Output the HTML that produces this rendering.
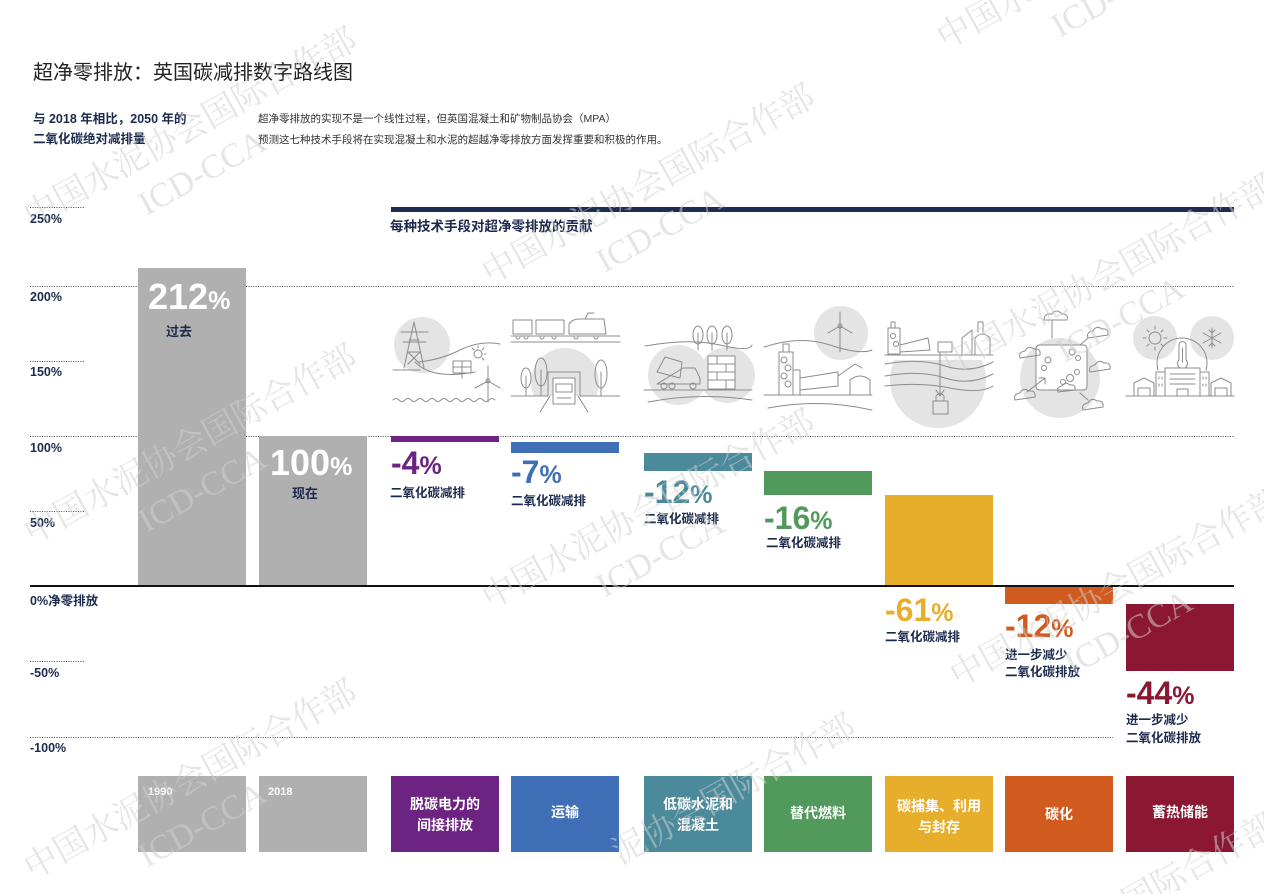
<!DOCTYPE html>
<html><head><meta charset="utf-8"><style>
html,body{margin:0;padding:0;background:#fff;width:1264px;height:894px;overflow:hidden;}
svg{display:block;overflow:hidden;}
</style></head><body>
<svg width="1264" height="894" viewBox="0 0 1264 894" xmlns="http://www.w3.org/2000/svg" font-family="'Liberation Sans','Noto Sans CJK SC',sans-serif">
<defs>
<clipPath id="c2"><rect x="505" y="300" width="120" height="96"/></clipPath>
<clipPath id="c5"><rect x="880" y="360" width="120" height="100"/></clipPath>
<clipPath id="page"><rect x="0" y="0" width="1264" height="894"/></clipPath>
</defs>
<rect width="1264" height="894" fill="#fff"/>

<!-- Title -->
<text x="33" y="79" font-size="20" fill="#222">超净零排放：英国碳减排数字路线图</text>
<text x="33" y="123" font-size="12.5" font-weight="bold" fill="#1c2a4e">与 2018 年相比，2050 年的</text>
<text x="33" y="143" font-size="12.5" font-weight="bold" fill="#1c2a4e">二氧化碳绝对减排量</text>
<text x="258" y="122" font-size="10.5" fill="#333">超净零排放的实现不是一个线性过程，但英国混凝土和矿物制品协会（MPA）</text>
<text x="258" y="143" font-size="10.5" fill="#333">预测这七种技术手段将在实现混凝土和水泥的超越净零排放方面发挥重要和积极的作用。</text>

<!-- header bar -->
<rect x="391" y="207" width="843" height="5" fill="#1d2c50"/>
<text x="390" y="231" font-size="13.5" font-weight="bold" fill="#1c2a4e">每种技术手段对超净零排放的贡献</text>

<!-- gridlines -->
<g stroke="#444" stroke-width="1" stroke-dasharray="1 1.4" fill="none">
<line x1="30" y1="207.5" x2="84" y2="207.5"/>
<line x1="30" y1="286.5" x2="1234" y2="286.5"/>
<line x1="30" y1="361.5" x2="84" y2="361.5"/>
<line x1="30" y1="436.5" x2="1234" y2="436.5"/>
<line x1="30" y1="511.5" x2="84" y2="511.5"/>
<line x1="30" y1="661.5" x2="84" y2="661.5"/>
<line x1="30" y1="737.5" x2="1113" y2="737.5"/>
</g>

<!-- axis labels -->
<g font-size="12.5" font-weight="bold" fill="#1c2a4e">
<text x="30" y="223">250%</text>
<text x="30" y="301">200%</text>
<text x="30" y="376">150%</text>
<text x="30" y="452">100%</text>
<text x="30" y="527">50%</text>
<text x="30" y="605">0%净零排放</text>
<text x="30" y="677">-50%</text>
<text x="30" y="752">-100%</text>
</g>

<!-- bars -->
<rect x="138" y="268" width="108" height="318" fill="#b0b0b0"/>
<rect x="259" y="436" width="108" height="150" fill="#b0b0b0"/>
<rect x="391" y="436" width="108" height="6" fill="#6c2381"/>
<rect x="511" y="442" width="108" height="11" fill="#3f6fb6"/>
<rect x="644" y="453" width="108" height="18" fill="#4b8a9b"/>
<rect x="764" y="471" width="108" height="24" fill="#519a5b"/>
<rect x="885" y="495" width="108" height="91" fill="#e6ae2b"/>
<rect x="1005" y="586" width="108" height="18" fill="#d15a1f"/>
<rect x="1126" y="604" width="108" height="67" fill="#8b1732"/>

<!-- zero line -->
<rect x="30" y="585" width="1204" height="2" fill="#111"/>

<!-- bar labels -->
<text x="148" y="309" font-size="36" font-weight="bold" fill="#fff">212<tspan font-size="25">%</tspan></text>
<text x="166" y="336" font-size="13" font-weight="bold" fill="#1c2a4e">过去</text>
<text x="270" y="475" font-size="36" font-weight="bold" fill="#fff">100<tspan font-size="25">%</tspan></text>
<text x="292" y="498" font-size="13" font-weight="bold" fill="#1c2a4e">现在</text>

<g font-weight="bold">
<text x="391" y="474" font-size="32" fill="#6c2381">-4<tspan font-size="25">%</tspan></text>
<text x="390" y="497" font-size="12.5" fill="#1c2a4e">二氧化碳减排</text>

<text x="511" y="483" font-size="32" fill="#3f6fb6">-7<tspan font-size="25">%</tspan></text>
<text x="511" y="505" font-size="12.5" fill="#1c2a4e">二氧化碳减排</text>

<text x="644" y="503" font-size="32" fill="#4b8a9b">-12<tspan font-size="25">%</tspan></text>
<text x="644" y="523" font-size="12.5" fill="#1c2a4e">二氧化碳减排</text>

<text x="764" y="529" font-size="32" fill="#519a5b">-16<tspan font-size="25">%</tspan></text>
<text x="766" y="547" font-size="12.5" fill="#1c2a4e">二氧化碳减排</text>

<text x="885" y="621" font-size="32" fill="#e6ae2b">-61<tspan font-size="25">%</tspan></text>
<text x="885" y="641" font-size="12.5" fill="#1c2a4e">二氧化碳减排</text>

<text x="1005" y="637" font-size="32" fill="#d15a1f">-12<tspan font-size="25">%</tspan></text>
<text x="1005" y="659" font-size="12.5" fill="#1c2a4e">进一步减少</text>
<text x="1005" y="676" font-size="12.5" fill="#1c2a4e">二氧化碳排放</text>

<text x="1126" y="704" font-size="32" fill="#8b1732">-44<tspan font-size="25">%</tspan></text>
<text x="1126" y="724" font-size="12.5" fill="#1c2a4e">进一步减少</text>
<text x="1126" y="742" font-size="12.5" fill="#1c2a4e">二氧化碳排放</text>
</g>

<!-- bottom boxes -->
<rect x="138" y="776" width="108" height="76" fill="#b0b0b0"/>
<rect x="259" y="776" width="108" height="76" fill="#b0b0b0"/>
<rect x="391" y="776" width="108" height="76" fill="#6c2381"/>
<rect x="511" y="776" width="108" height="76" fill="#3f6fb6"/>
<rect x="644" y="776" width="108" height="76" fill="#4b8a9b"/>
<rect x="764" y="776" width="108" height="76" fill="#519a5b"/>
<rect x="885" y="776" width="108" height="76" fill="#e6ae2b"/>
<rect x="1005" y="776" width="108" height="76" fill="#d15a1f"/>
<rect x="1126" y="776" width="108" height="76" fill="#8b1732"/>
<g font-weight="bold" fill="#fff">
<text x="148" y="795" font-size="11">1990</text>
<text x="268" y="795" font-size="11">2018</text>
<g font-size="14" text-anchor="middle">
<text x="445" y="809">脱碳电力的</text>
<text x="445" y="830">间接排放</text>
<text x="565" y="817">运输</text>
<text x="698" y="809">低碳水泥和</text>
<text x="698" y="830">混凝土</text>
<text x="818" y="818">替代燃料</text>
<text x="939" y="811">碳捕集、利用</text>
<text x="939" y="832">与封存</text>
<text x="1059" y="819">碳化</text>
<text x="1180" y="817">蓄热储能</text>
</g>
</g>

<!-- ICONS -->
<g stroke="#8c8c8c" stroke-width="1" fill="none" stroke-linecap="round" stroke-linejoin="round">
<!-- icon1 power -->
<circle cx="422" cy="345" r="28" fill="#e4e4e4" stroke="none"/>
<path d="M404 368 L414 322 L424 368 M407 352 L421 352 M409 340 L419 340 M401 332 L428 332 M403 342 L426 342 M408 352 L420 364 M420 352 L408 364"/>
<path d="M393 370 L420 370"/>
<path d="M418 362 Q440 360 460 350 T500 344"/>
<path d="M415 362 Q432 380 475 372"/>
<rect x="453" y="361" width="18" height="12"/><path d="M462 361 L462 373 M453 367 L471 367 M462 373 L462 378"/>
<circle cx="478" cy="354" r="4"/><path d="M478 346 L478 348 M486 354 L484 354 M484 348 L482 350 M472 348 L474 350 M484 360 L482 358"/>
<path d="M488 381 L488 402 M488 381 L488 366 M488 381 L475 388 M488 381 L500 388"/><circle cx="488" cy="381" r="2"/>
<path d="M393 400 q3 -3 6 0 q3 3 6 0 q3 -3 6 0 q3 3 6 0 q3 -3 6 0 q3 3 6 0 q3 -3 6 0 q3 3 6 0 q3 -3 6 0 q3 3 6 0 q3 -3 6 0 q3 3 6 0 q3 -3 6 0 q3 3 6 0 q3 -3 6 0 q3 3 6 0 q3 -3 6 0"/>

<!-- icon2 transport -->
<circle cx="565" cy="382" r="34" fill="#e4e4e4" stroke="none" clip-path="url(#c2)"/>
<rect x="513" y="320" width="19" height="14"/><rect x="536" y="320" width="28" height="14"/>
<path d="M569 334 L569 324 Q572 319 580 319 L604 319 L606 334 Z M585 319 L588 313 L594 313"/>
<path d="M516 337 a2 2 0 1 0 4 0 M524 337 a2 2 0 1 0 4 0 M540 337 a2 2 0 1 0 4 0 M552 337 a2 2 0 1 0 4 0 M574 337 a2 2 0 1 0 4 0 M594 337 a2 2 0 1 0 4 0"/>
<path d="M511 336 L620 336 M511 342 L620 342"/>
<ellipse cx="526" cy="378" rx="5" ry="10"/><path d="M526 376 L526 396"/>
<ellipse cx="541" cy="372" rx="6" ry="14"/><path d="M541 370 L541 396"/>
<ellipse cx="601" cy="374" rx="6" ry="14"/><path d="M601 372 L601 396"/>
<path d="M511 396 L548 396 M580 396 L620 396"/>
<path d="M550 396 L540 412 M578 396 L588 412"/>
<rect x="553" y="378" width="22" height="26" fill="#fff"/><path d="M556 384 L572 384 L572 392 L556 392 Z M557 398 L571 398"/>
<path d="M548 372 L580 372 L580 396 M548 372 L548 396"/>

<!-- icon3 cement -->
<circle cx="678" cy="375" r="30" fill="#e4e4e4" stroke="none"/>
<circle cx="727" cy="375" r="28" fill="#e4e4e4" stroke="none"/>
<ellipse cx="698" cy="335" rx="5" ry="9"/><path d="M698 333 L698 350"/>
<ellipse cx="712" cy="335" rx="5" ry="9"/><path d="M712 333 L712 350"/>
<ellipse cx="727" cy="335" rx="5" ry="9"/><path d="M727 333 L727 350"/>
<path d="M645 346 Q690 338 720 345 T752 345"/>
<path d="M657 372 L665 357 L682 362 L680 378 Z M683 368 L695 368 L700 378 L700 384 L657 384 Z"/>
<circle cx="664" cy="386" r="3"/><circle cx="672" cy="386" r="3"/><circle cx="693" cy="386" r="3"/>
<rect x="708" y="356" width="27" height="33" fill="#fff"/>
<path d="M708 364 L735 364 M708 372 L735 372 M708 380 L735 380 M717 356 L717 364 M726 364 L726 372 M717 372 L717 380 M726 380 L726 389"/>
<path d="M644 390 L752 390"/>
<path d="M648 402 Q700 392 752 400"/>

<!-- icon4 fuels -->
<circle cx="841" cy="333" r="27" fill="#e4e4e4" stroke="none"/>
<path d="M840 326 L840 352 M840 326 L840 312 M840 326 L828 333 M840 326 L852 333"/><circle cx="840" cy="326" r="2"/>
<path d="M764 347 Q800 335 830 345 T872 350"/>
<rect x="779" y="352" width="14" height="43" fill="#fff"/><rect x="783" y="344" width="6" height="8"/>
<circle cx="784" cy="360" r="3"/><circle cx="788" cy="368" r="3"/><circle cx="784" cy="376" r="3"/><circle cx="788" cy="384" r="3"/>
<path d="M793 370 L800 370 L800 395 M800 378 L838 372 L838 386 L800 390"/>
<path d="M838 376 L855 364 L862 368"/>
<path d="M850 395 L850 380 Q860 372 870 380 L870 395"/>
<path d="M764 395 L872 395"/>
<path d="M768 408 Q820 398 872 410"/>

<!-- icon5 CCUS -->
<circle cx="938" cy="380" r="48" fill="#e4e4e4" stroke="none" clip-path="url(#c5)"/>
<rect x="888" y="328" width="12" height="26"/><rect x="891" y="322" width="4" height="6"/>
<circle cx="893" cy="336" r="2.5"/><circle cx="896" cy="344" r="2.5"/>
<path d="M900 345 L928 338 L930 350 L900 352"/>
<rect x="938" y="342" width="14" height="10"/>
<path d="M962 354 L962 338 L972 330 L972 354 M975 354 L975 338 Q982 330 990 338 L990 354 M978 332 L978 322 L983 322 L983 332"/>
<path d="M885 355 L993 355"/>
<path d="M885 364 Q920 358 945 366 T993 362"/>
<path d="M885 376 Q920 370 945 378 T993 374"/>
<path d="M885 386 Q920 382 950 388 T993 386"/>
<path d="M940 352 L940 396 M936 390 L940 396 L944 390"/>
<rect x="933" y="401" width="15" height="13"/><path d="M936 401 L936 396 Q940 391 944 396 L944 401"/>

<!-- icon6 carbonation -->
<circle cx="1060" cy="378" r="40" fill="#e4e4e4" stroke="none"/>
<path d="M1040 345 L1083 345 Q1087 345 1087 349 L1087 386 Q1087 390 1083 390 L1040 390 Q1036 390 1036 386 L1036 349 Q1036 345 1040 345 Z" fill="#fff"/>
<circle cx="1048" cy="360" r="3"/><circle cx="1044" cy="368" r="2.5"/><circle cx="1072" cy="352" r="3"/><circle cx="1078" cy="358" r="2.5"/><circle cx="1070" cy="378" r="3.5"/><circle cx="1077" cy="372" r="2.5"/><circle cx="1063" cy="382" r="2.5"/>
<path d="M1044 320 q0 -7 8 -6 q4 -6 10 0 q7 0 5 6 Z M1052 320 L1052 338"/>
<path d="M1088 338 q-2 -6 5 -7 q3 -6 9 -2 q7 -1 6 6 Z M1088 338 L1080 345"/>
<path d="M1020 358 q-2 -6 5 -7 q3 -6 9 -2 q7 -1 6 6 Z"/>
<path d="M1090 372 q-2 -6 5 -7 q3 -6 9 -2 q7 -1 6 6 Z"/>
<path d="M1015 400 q-2 -6 5 -7 q3 -6 9 -2 q7 -1 6 6 Z M1027 392 L1045 378 M1039 378 L1045 378 L1045 384"/>
<path d="M1083 410 q-2 -6 5 -7 q3 -6 9 -2 q7 -1 6 6 Z M1088 400 L1080 393"/>
<path d="M1058 392 q-2 -5 4 -6 q3 -5 8 -1 q6 -1 5 5 Z"/>

<!-- icon7 thermal -->
<circle cx="1155" cy="338" r="22" fill="#e4e4e4" stroke="none"/>
<circle cx="1212" cy="338" r="22" fill="#e4e4e4" stroke="none"/>
<circle cx="1155" cy="338" r="6"/>
<path d="M1155 326 L1155 329 M1155 347 L1155 350 M1143 338 L1146 338 M1164 338 L1167 338 M1147 330 L1149 332 M1161 344 L1163 346 M1147 346 L1149 344 M1161 332 L1163 330"/>
<path d="M1212 328 L1212 348 M1203 333 L1221 343 M1203 343 L1221 333 M1209 330 L1212 333 L1215 330 M1209 346 L1212 343 L1215 346"/>
<path d="M1158 370 A25 25 0 1 1 1206 370"/>
<path d="M1179 345 L1179 360 A5 5 0 1 0 1186 360 L1186 345 A3.5 3.5 0 0 0 1179 345 Z"/><path d="M1182.5 348 L1182.5 362"/>
<rect x="1165" y="368" width="35" height="28" fill="#fff"/>
<path d="M1170 374 L1195 374 M1170 379 L1195 379 M1170 384 L1195 384 M1177 396 L1177 389 L1188 389 L1188 396"/>
<rect x="1156" y="372" width="9" height="24"/><rect x="1200" y="372" width="9" height="24"/>
<path d="M1159 377 L1159 379 M1162 377 L1162 379 M1159 384 L1159 386 M1162 384 L1162 386 M1203 377 L1203 379 M1206 377 L1206 379 M1203 384 L1203 386 M1206 384 L1206 386"/>
<path d="M1134 396 L1134 383 L1144 378 L1154 383 L1154 396 M1138 396 L1138 388 L1150 388 L1150 396"/>
<path d="M1211 396 L1211 383 L1221 378 L1231 383 L1231 396 M1215 396 L1215 388 L1227 388 L1227 396"/>
<path d="M1126 396 L1234 396"/>
</g>

<!-- watermarks -->
<g fill="#d0d0d0" fill-opacity="0.55" clip-path="url(#page)">
<g font-family="'Noto Serif CJK SC','Liberation Serif',serif" font-size="34">
<text x="32" y="228" transform="rotate(-29 32 228)">中国水泥协会国际合作部</text>
<text x="32" y="545" transform="rotate(-29 32 545)">中国水泥协会国际合作部</text>
<text x="32" y="880" transform="rotate(-29 32 880)">中国水泥协会国际合作部</text>
<text x="490" y="285" transform="rotate(-29 490 285)">中国水泥协会国际合作部</text>
<text x="490" y="610" transform="rotate(-29 490 610)">中国水泥协会国际合作部</text>
<text x="620" y="865" transform="rotate(-29 620 865)">泥协会国际合作部</text>
<text x="945" y="50" transform="rotate(-29 945 50)">中国水泥协会国际合作部</text>
<text x="950" y="375" transform="rotate(-29 950 375)">中国水泥协会国际合作部</text>
<text x="958" y="688" transform="rotate(-29 958 688)">中国水泥协会国际合作部</text>
<text x="1130" y="915" transform="rotate(-29 1130 915)">国际合作部</text>
</g>
<g font-family="'Liberation Serif',serif" font-size="34">
<text x="138" y="273" transform="rotate(-29 32 228)">ICD-CCA</text>
<text x="138" y="590" transform="rotate(-29 32 545)">ICD-CCA</text>
<text x="138" y="925" transform="rotate(-29 32 880)">ICD-CCA</text>
<text x="596" y="330" transform="rotate(-29 490 285)">ICD-CCA</text>
<text x="596" y="655" transform="rotate(-29 490 610)">ICD-CCA</text>
<text x="1051" y="95" transform="rotate(-29 945 50)">ICD-CCA</text>
<text x="1056" y="420" transform="rotate(-29 950 375)">ICD-CCA</text>
<text x="1064" y="733" transform="rotate(-29 958 688)">ICD-CCA</text>
</g>
</g>
</svg>
</body></html>
